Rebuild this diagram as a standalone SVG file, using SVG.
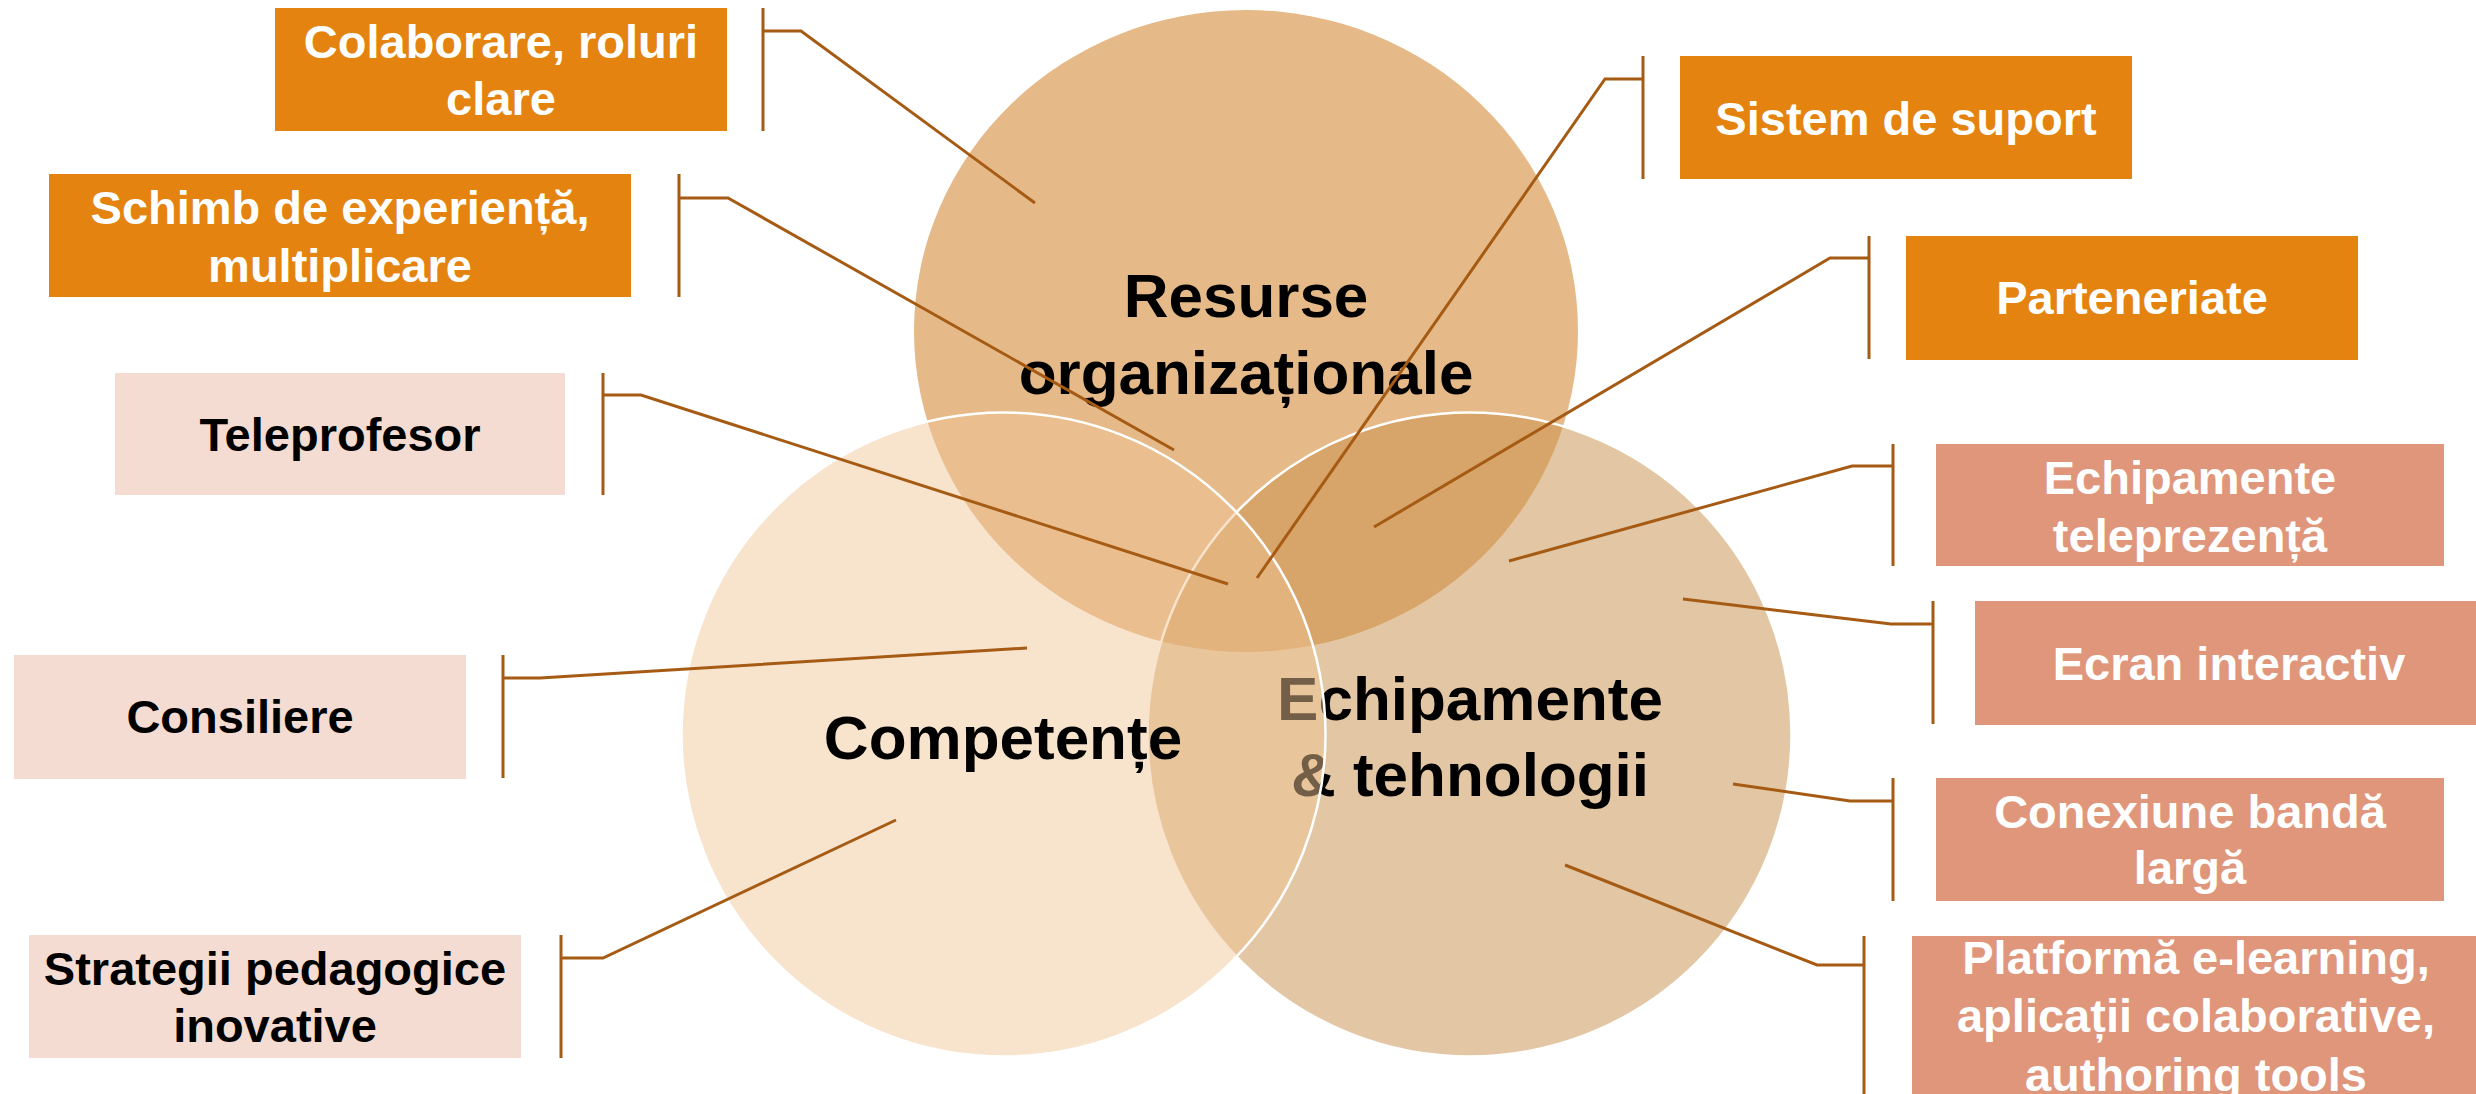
<svg xmlns="http://www.w3.org/2000/svg" width="2476" height="1094" viewBox="0 0 2476 1094">
<style>
.box-o{fill:#E4830F}
.box-s{fill:#E0967A}
.box-p{fill:#F4DCD2}
.t{font-family:"Liberation Sans",Arial,sans-serif;font-weight:bold;font-size:47px;text-anchor:middle}
.tw{fill:#FFFFFF}
.tb{fill:#000000}
.big{font-family:"Liberation Sans",Arial,sans-serif;font-weight:bold;font-size:62px;text-anchor:middle;fill:#000000}
.conn{fill:none;stroke:#A65B14;stroke-width:3;stroke-linejoin:miter}
</style>
<rect width="2476" height="1094" fill="#FFFFFF"/>

<g id="circle-resurse">
<ellipse cx="1246" cy="331" rx="332" ry="321" fill="#E5B988"/>
<text class="big" x="1246" y="317">Resurse</text>
<text class="big" x="1246" y="394">organizaționale</text>
</g>

<g id="circle-echipamente">
<circle cx="1469.5" cy="734.5" r="322" fill="#C9914E" fill-opacity="0.52" stroke="#FFFFFF" stroke-width="2.5"/>
<text class="big" x="1470" y="720">Echipamente</text>
<text class="big" x="1470" y="796">&amp; tehnologii</text>
</g>

<g id="circle-competente">
<circle cx="1003.5" cy="734.5" r="322" fill="#F0C595" fill-opacity="0.48" stroke="#FFFFFF" stroke-width="2.5"/>
<text class="big" x="1003" y="759">Competențe</text>
</g>

<g id="node-colaborare">
<rect class="box-o" x="275" y="8" width="452" height="123"/>
<text class="t tw" x="501" y="58">Colaborare, roluri</text>
<text class="t tw" x="501" y="115">clare</text>
</g>

<g id="node-schimb">
<rect class="box-o" x="49" y="174" width="582" height="123"/>
<text class="t tw" x="340" y="224">Schimb de experiență,</text>
<text class="t tw" x="340" y="282">multiplicare</text>
</g>

<g id="node-teleprofesor">
<rect class="box-p" x="115" y="373" width="450" height="122"/>
<text class="t tb" x="340" y="451">Teleprofesor</text>
</g>

<g id="node-consiliere">
<rect class="box-p" x="14" y="655" width="452" height="124"/>
<text class="t tb" x="240" y="733">Consiliere</text>
</g>

<g id="node-strategii">
<rect class="box-p" x="29" y="935" width="492" height="123"/>
<text class="t tb" x="275" y="985">Strategii pedagogice</text>
<text class="t tb" x="275" y="1042">inovative</text>
</g>

<g id="node-sistem">
<rect class="box-o" x="1680" y="56" width="452" height="123"/>
<text class="t tw" x="1906" y="135">Sistem de suport</text>
</g>

<g id="node-parteneriate">
<rect class="box-o" x="1906" y="236" width="452" height="124"/>
<text class="t tw" x="2132" y="314">Parteneriate</text>
</g>

<g id="node-teleprezenta">
<rect class="box-s" x="1936" y="444" width="508" height="122"/>
<text class="t tw" x="2190" y="494">Echipamente</text>
<text class="t tw" x="2190" y="552">teleprezență</text>
</g>

<g id="node-ecran">
<rect class="box-s" x="1975" y="601" width="508" height="124"/>
<text class="t tw" x="2229" y="680">Ecran interactiv</text>
</g>

<g id="node-conexiune">
<rect class="box-s" x="1936" y="778" width="508" height="123"/>
<text class="t tw" x="2190" y="828">Conexiune bandă</text>
<text class="t tw" x="2190" y="884">largă</text>
</g>

<g id="node-platforma">
<rect class="box-s" x="1912" y="936" width="568" height="170"/>
<text class="t tw" x="2196" y="974">Platformă e-learning,</text>
<text class="t tw" x="2196" y="1032">aplicații colaborative,</text>
<text class="t tw" x="2196" y="1091">authoring tools</text>
</g>

<g id="connectors">
<path class="conn" d="M763,8 V131 M763,31 H801 L1035,203"/>
<path class="conn" d="M679,174 V297 M679,198 H728 L1174,450"/>
<path class="conn" d="M603,373 V495 M603,395 H641 L1228,584"/>
<path class="conn" d="M503,655 V778 M503,678 H540 L1027,648"/>
<path class="conn" d="M561,935 V1058 M561,958 H603 L896,820"/>
<path class="conn" d="M1643,56 V179 M1643,79 H1605 L1257,578"/>
<path class="conn" d="M1869,236 V359 M1869,258 H1830 L1374,527"/>
<path class="conn" d="M1893,444 V566 M1893,466 H1852 L1509,561"/>
<path class="conn" d="M1933,601 V724 M1933,624 H1891 L1683,599"/>
<path class="conn" d="M1893,778 V901 M1893,801 H1850 L1733,784"/>
<path class="conn" d="M1864,936 V1094 M1864,965 H1817 L1565,865"/>
</g>
</svg>
